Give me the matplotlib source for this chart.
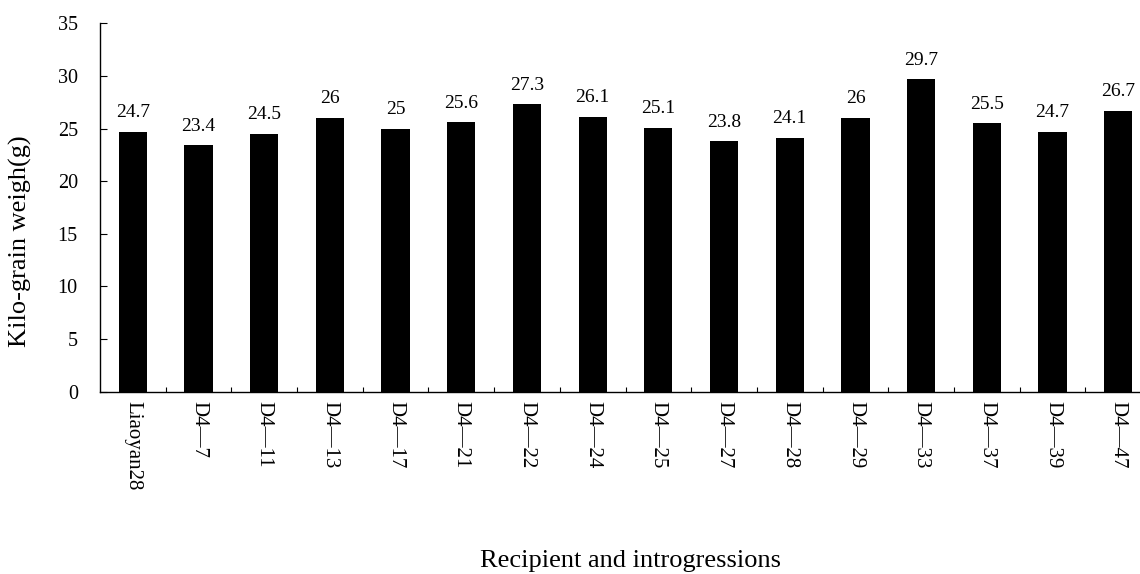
import matplotlib
matplotlib.use("Agg")
import matplotlib.pyplot as plt
import numpy as np

categories = ["Liaoyan28", "D4\u20147", "D4\u201411", "D4\u201413", "D4\u201417", "D4\u201421",
              "D4\u201422", "D4\u201424", "D4\u201425", "D4\u201427", "D4\u201428", "D4\u201429",
              "D4\u201433", "D4\u201437", "D4\u201439", "D4\u201447"]
weights = [24.7, 23.4, 24.5, 26, 25, 25.6, 27.3, 26.1, 25.1, 23.8, 24.1, 26, 29.7, 25.5, 24.7, 26.7]
value_labels = ["24.7", "23.4", "24.5", "26", "25", "25.6", "27.3", "26.1", "25.1", "23.8",
                "24.1", "26", "29.7", "25.5", "24.7", "26.7"]
yticks = [0, 5, 10, 15, 20, 25, 30, 35]

plt.rcParams["font.family"] = ["Liberation Serif", "DejaVu Serif"]

W, H = 1140, 574
fig = plt.figure(figsize=(W / 100, H / 100), dpi=100)
ax = fig.add_axes([0.0877, 0.3176, 0.922, 0.6418])

x = np.arange(len(categories))
ax.bar(x, weights, width=0.43, color="black")

for xi, v, lab in zip(x, weights, value_labels):
    ax.annotate(lab, (xi, v), xytext=(0, 10.5), textcoords="offset points",
                ha="center", va="baseline", fontsize=14)

ax.set_xlim(-0.5, len(categories) - 0.5)
ax.set_ylim(0, 35)
ax.set_yticks(yticks)
ax.set_yticklabels([str(t) for t in yticks], fontsize=14.5)

# category labels at bar centres, tick marks at the boundaries between them
ax.set_xticks(x)
ax.set_xticklabels(categories, rotation=270, fontsize=15, va="top", ha="center")
ax.tick_params(axis="x", which="major", length=0, pad=7)
ax.set_xticks(np.arange(0.5, len(categories) - 0.5, 1), minor=True)
ax.tick_params(axis="x", which="minor", direction="in", length=3.6, width=0.8)
ax.tick_params(axis="y", direction="in", length=5, width=0.8, pad=16)

for s in ["top", "right"]:
    ax.spines[s].set_visible(False)
for s in ["left", "bottom"]:
    ax.spines[s].set_linewidth(1.0)

fig.text(20 / W, 1 - 241 / H, "Kilo-grain weigh(g)", rotation=90,
         ha="center", va="center", fontsize=19)
fig.text(630 / W, 1 - 561 / H, "Recipient and introgressions",
         ha="center", va="center", fontsize=19)

fig.savefig("out.png", dpi=100)
